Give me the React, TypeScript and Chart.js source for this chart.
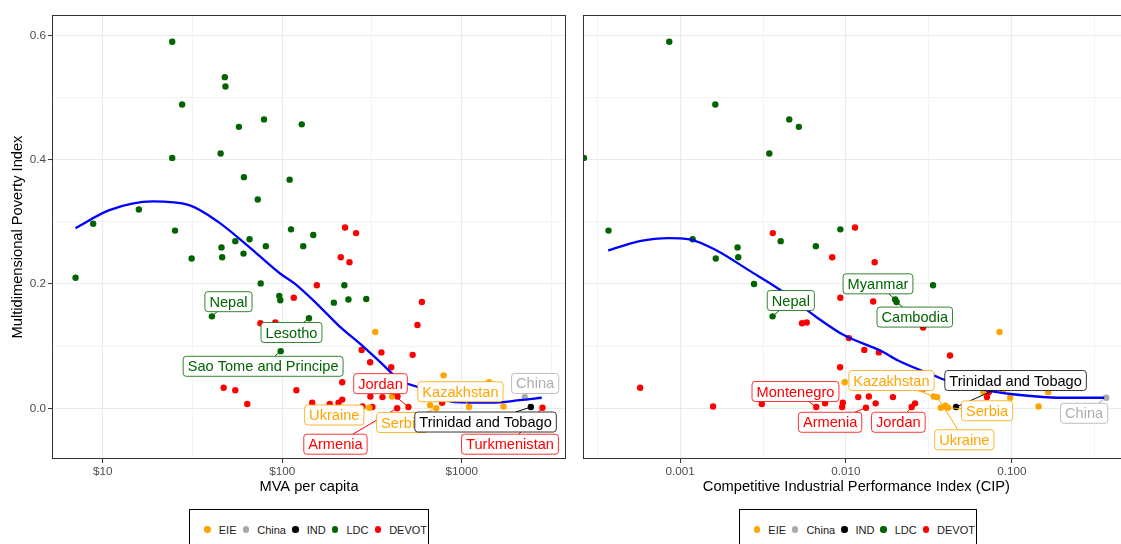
import React, { useEffect, useRef } from 'react';
import { Chart, registerables } from 'chart.js';

Chart.register(...registerables);

const FONT = '"Liberation Sans", Arial, Helvetica, sans-serif';

const GROUPS = ['EIE', 'China', 'IND', 'LDC', 'DEVOT'];
const GROUP_COLORS = ['#FFA500', '#A9A9A9', '#000000', '#006400', '#FF0000'];
const LABEL_COLORS = ['#FFA500', '#AEAEAE', '#000000', '#006400', '#FF0000'];

const Y_TICKS = [0, 0.1, 0.2, 0.3, 0.4, 0.5, 0.6];
const Y_TICK_LABELS = ['0.0', '', '0.2', '', '0.4', '', '0.6'];

const MVA_TICKS = [10, 31.623, 100, 316.23, 1000, 3162.3];
const MVA_TICK_LABELS = ['$10', '', '$100', '', '$1000', ''];

const CIP_TICKS = [0.00031623, 0.001, 0.0031623, 0.01, 0.031623, 0.1, 0.31623];
const CIP_TICK_LABELS = ['', '0.001', '', '0.010', '', '0.100', ''];

// ---------- Left panel: MVA per capita ----------
const mvaX = [
  24.4, 47.9, 48.3, 27.7, 57.4, 79.2, 128.5, 45.4, 24.4, 61.2,
  110, 73.1, 15.9, 8.85, 25.3, 112, 149, 224, 258, 54.8,
  65.8, 45.9, 81.1, 131, 7.06, 31.3, 46.3, 60.9, 75.9, 96.3,
  97.6, 116, 156, 222, 194, 234, 294, 212, 237, 40.6,
  75.6, 91.6, 141, 98.1, 330, 277, 357, 309, 405, 533,
  567, 600, 793, 1422, 47.2, 54.8, 63.9, 120, 216, 216,
  147, 184, 206, 280, 306, 318, 310, 362, 409, 439,
  505, 437, 667, 722, 778, 1099, 1710, 2244, 2427, 2818,
];
const mvaY = [
  0.590, 0.533, 0.518, 0.489, 0.453, 0.465, 0.457, 0.410, 0.403, 0.372,
  0.368, 0.336, 0.320, 0.297, 0.286, 0.288, 0.279, 0.291, 0.282, 0.269,
  0.272, 0.259, 0.261, 0.261, 0.210, 0.241, 0.243, 0.249, 0.201, 0.181,
  0.174, 0.178, 0.198, 0.198, 0.170, 0.175, 0.176, 0.243, 0.235, 0.148,
  0.137, 0.138, 0.145, 0.092, 0.123, 0.094, 0.090, 0.074, 0.066, 0.086,
  0.134, 0.171, 0.053, 0.042, 0.033, 0.029, 0.007, 0.029, 0.042, 0.014,
  0.009, 0.007, 0.009, 0.003, 0.001, 0.002, 0.019, 0.018, 0.019, 0.019,
  0.002, 0.000, 0.005, 0.000, 0.009, 0.002, 0.003, 0.018, 0.002, 0.001,
];
const mvaGroup = [
  'LDC', 'LDC', 'LDC', 'LDC', 'LDC', 'LDC', 'LDC', 'LDC', 'LDC', 'LDC',
  'LDC', 'LDC', 'LDC', 'LDC', 'LDC', 'LDC', 'LDC', 'DEVOT', 'DEVOT', 'LDC',
  'LDC', 'LDC', 'LDC', 'LDC', 'LDC', 'LDC', 'LDC', 'LDC', 'LDC', 'LDC',
  'LDC', 'DEVOT', 'DEVOT', 'LDC', 'LDC', 'LDC', 'LDC', 'DEVOT', 'DEVOT', 'LDC',
  'DEVOT', 'DEVOT', 'LDC', 'LDC', 'EIE', 'DEVOT', 'DEVOT', 'DEVOT', 'DEVOT', 'DEVOT',
  'DEVOT', 'DEVOT', 'EIE', 'EIE', 'DEVOT', 'DEVOT', 'DEVOT', 'DEVOT', 'DEVOT', 'DEVOT',
  'DEVOT', 'DEVOT', 'DEVOT', 'DEVOT', 'EIE', 'DEVOT', 'DEVOT', 'DEVOT', 'EIE', 'DEVOT',
  'DEVOT', 'DEVOT', 'EIE', 'EIE', 'DEVOT', 'EIE', 'EIE', 'China', 'IND', 'DEVOT',
];
const mvaSmoothX = [7.06, 10.9, 19.0, 30.3, 44.0, 67.0, 97.3, 117, 155, 205, 284, 359, 453, 573, 912, 1456, 2113, 2793];
const mvaSmoothY = [0.290, 0.319, 0.333, 0.327, 0.300, 0.257, 0.217, 0.201, 0.169, 0.134, 0.099, 0.072, 0.045, 0.034, 0.010, 0.009, 0.013, 0.017];

const mvaLabelText = ['Nepal', 'Lesotho', 'Sao Tome and Principe', 'Jordan', 'Kazakhstan', 'China', 'Ukraine', 'Armenia', 'Serbia', 'Turkmenistan', 'Trinidad and Tobago'];
const mvaLabelPoint = [39, 42, 43, 70, 75, 77, 64, 71, 73, 79, 78];
const mvaLabelX = [50.2, 112.7, 78.3, 353, 984, 2565, 195, 198, 466, 1858, 1358];
const mvaLabelY = [0.1716, 0.122, 0.0676, 0.0396, 0.0267, 0.040, -0.0108, -0.0578, -0.0229, -0.0578, -0.0221];

// ---------- Right panel: CIP ----------
const cipX = [
  0.00086, 0.00163, 0.00455, 0.0052, 0.00345, 0.000263, 0.00037, 0.00925, 0.01134, 0.00362,
  0.00119, 0.00404, 0.00222, 0.00658, 0.00164, 0.00224, 0.00826, 0.0149, 0.00279, 0.0335,
  0.00925, 0.0146, 0.0198, 0.0202, 0.00361, 0.00543, 0.0058, 0.0292, 0.0843, 0.01042,
  0.0129, 0.0158, 0.0424, 0.00922, 0.00982, 0.000574, 0.01186, 0.01374, 0.0192, 0.0338,
  0.0355, 0.0294, 0.0675, 0.0726, 0.0708, 0.0885, 0.0977, 0.1656, 0.145, 0.00158,
  0.00311, 0.00662, 0.00748, 0.00957, 0.00948, 0.0132, 0.0151, 0.0249, 0.0261, 0.0373,
  0.0398, 0.0412, 0.0461, 0.371,
];
const cipY = [
  0.590, 0.489, 0.465, 0.453, 0.410, 0.403, 0.286, 0.288, 0.291, 0.282,
  0.272, 0.269, 0.259, 0.261, 0.241, 0.243, 0.243, 0.235, 0.200, 0.198,
  0.178, 0.172, 0.175, 0.171, 0.148, 0.137, 0.138, 0.130, 0.123, 0.113,
  0.094, 0.090, 0.085, 0.066, 0.042, 0.033, 0.018, 0.019, 0.018, 0.019,
  0.018, 0.032, 0.026, 0.026, 0.018, 0.029, 0.017, 0.026, 0.003, 0.003,
  0.007, 0.002, 0.008, 0.009, 0.002, 0.001, 0.008, 0.002, 0.008, 0.001,
  0.004, 0.001, 0.002, 0.017,
];
const cipGroup = [
  'LDC', 'LDC', 'LDC', 'LDC', 'LDC', 'LDC', 'LDC', 'LDC', 'DEVOT', 'DEVOT',
  'LDC', 'LDC', 'LDC', 'LDC', 'LDC', 'LDC', 'DEVOT', 'DEVOT', 'LDC', 'LDC',
  'DEVOT', 'DEVOT', 'LDC', 'LDC', 'LDC', 'DEVOT', 'DEVOT', 'DEVOT', 'EIE', 'DEVOT',
  'DEVOT', 'DEVOT', 'DEVOT', 'DEVOT', 'EIE', 'DEVOT', 'DEVOT', 'DEVOT', 'DEVOT', 'EIE',
  'EIE', 'DEVOT', 'EIE', 'DEVOT', 'DEVOT', 'EIE', 'EIE', 'EIE', 'EIE', 'DEVOT',
  'DEVOT', 'DEVOT', 'DEVOT', 'DEVOT', 'DEVOT', 'DEVOT', 'DEVOT', 'DEVOT', 'DEVOT', 'EIE',
  'EIE', 'EIE', 'IND', 'China',
];
const cipSmoothX = [0.000368, 0.00057, 0.000852, 0.00114, 0.00166, 0.0026, 0.00404, 0.00662, 0.00982, 0.0161, 0.0206, 0.0338, 0.0432, 0.0708, 0.116, 0.19, 0.361];
const cipSmoothY = [0.254, 0.269, 0.274, 0.272, 0.254, 0.222, 0.190, 0.147, 0.117, 0.093, 0.077, 0.053, 0.042, 0.029, 0.021, 0.017, 0.017];

const cipLabelText = ['Nepal', 'Myanmar', 'Cambodia', 'Montenegro', 'Kazakhstan', 'Armenia', 'Jordan', 'Serbia', 'Ukraine', 'China', 'Trinidad and Tobago'];
const cipLabelPoint = [24, 22, 23, 51, 39, 55, 57, 61, 40, 63, 62];
const cipLabelX = [0.00465, 0.0156, 0.026, 0.00496, 0.0188, 0.00802, 0.0207, 0.0709, 0.0517, 0.273, 0.1054];
const cipLabelY = [0.1735, 0.2003, 0.1468, 0.027, 0.0447, -0.0225, -0.0225, -0.004, -0.0507, -0.008, 0.0447];

type PanelProps = {
  xs: number[]; ys: number[]; groups: string[];
  smoothX: number[]; smoothY: number[];
  labelText: string[]; labelPoint: number[]; labelX: number[]; labelY: number[];
  xMin: number; xMax: number; xTicks: number[]; xTickLabels: string[];
  xTitle: string; yTitle?: string;
  left: number; width: number; padLeft: number; padRight: number; yAxisWidth: number;
};

const CANVAS_H = 500;
const PLOT_TOP = 15;
const PLOT_BOTTOM = 459;
const Y_MIN = -0.0816;
const Y_MAX = 0.633;

const makeDecoPlugin = (p: PanelProps) => ({
  id: 'panelDeco',
  afterDatasetsDraw(chart: any) {
    const { ctx, chartArea: ca, scales } = chart;
    const sx = scales.x;
    const sy = scales.y;
    ctx.save();
    // panel border
    ctx.strokeStyle = '#333333';
    ctx.lineWidth = 1;
    ctx.strokeRect(ca.left + 0.5, ca.top + 0.5, ca.right - ca.left - 1, ca.bottom - ca.top - 1);

    // repel-style labels
    ctx.font = `14.6px ${FONT}`;
    const boxes = p.labelText.map((text, i) => {
      const k = p.labelPoint[i];
      const color = LABEL_COLORS[GROUPS.indexOf(p.groups[k])];
      const w = ctx.measureText(text).width + 9;
      const h = 20;
      return {
        text, color, w, h,
        cx: sx.getPixelForValue(p.labelX[i]), cy: sy.getPixelForValue(p.labelY[i]),
        px: sx.getPixelForValue(p.xs[k]), py: sy.getPixelForValue(p.ys[k]),
      };
    });
    boxes.forEach((b) => {
      const dx = b.px - b.cx;
      const dy = b.py - b.cy;
      const tx = dx === 0 ? Infinity : (b.w / 2) / Math.abs(dx);
      const ty = dy === 0 ? Infinity : (b.h / 2) / Math.abs(dy);
      const t = Math.min(tx, ty);
      if (t >= 1) return;
      const x0 = b.cx + dx * t;
      const y0 = b.cy + dy * t;
      if (Math.hypot(b.px - x0, b.py - y0) < 4) return;
      ctx.strokeStyle = b.color;
      ctx.lineWidth = 1;
      ctx.beginPath();
      ctx.moveTo(x0, y0);
      ctx.lineTo(b.px, b.py);
      ctx.stroke();
    });
    boxes.forEach((b) => {
      const x0 = b.cx - b.w / 2;
      const y0 = b.cy - b.h / 2;
      ctx.beginPath();
      ctx.roundRect(x0, y0, b.w, b.h, 3);
      ctx.fillStyle = '#FFFFFF';
      ctx.fill();
      ctx.strokeStyle = b.color;
      ctx.lineWidth = 0.8;
      ctx.stroke();
      ctx.fillStyle = b.color;
      ctx.textAlign = 'center';
      ctx.textBaseline = 'middle';
      ctx.fillText(b.text, b.cx, b.cy + 1);
    });

    // axis titles
    ctx.fillStyle = '#000000';
    ctx.font = `14.67px ${FONT}`;
    ctx.textAlign = 'center';
    ctx.textBaseline = 'middle';
    ctx.fillText(p.xTitle, (ca.left + ca.right) / 2, 487);
    if (p.yTitle) {
      ctx.translate(18, (ca.top + ca.bottom) / 2);
      ctx.rotate(-Math.PI / 2);
      ctx.fillText(p.yTitle, 0, 0);
    }
    ctx.restore();
  },
});

function Panel(p: PanelProps) {
  const ref = useRef<HTMLCanvasElement>(null);
  useEffect(() => {
    if (!ref.current) return;
    const isMajorX = (v: number) => {
      const i = p.xTicks.findIndex((t) => Math.abs(t - v) / t < 1e-4);
      return i >= 0 && p.xTickLabels[i] !== '';
    };
    const isMajorY = (v: number) => {
      const i = Y_TICKS.findIndex((t) => Math.abs(t - v) < 1e-6);
      return i >= 0 && Y_TICK_LABELS[i] !== '';
    };
    const scatterSets = GROUPS.map((g, gi) => ({
      type: 'scatter',
      label: g,
      data: p.xs.map((x, i) => ({ x, y: p.ys[i] })).filter((_, i) => p.groups[i] === g),
      pointRadius: 3.2,
      pointHoverRadius: 3.2,
      pointBackgroundColor: GROUP_COLORS[gi],
      pointBorderColor: GROUP_COLORS[gi],
      pointBorderWidth: 0,
      order: 1,
    }));
    const lineSet = {
      type: 'line',
      label: 'smooth',
      data: p.smoothX.map((x, i) => ({ x, y: p.smoothY[i] })),
      borderColor: '#0000FF',
      borderWidth: 2.3,
      pointRadius: 0,
      fill: false,
      showLine: true,
      cubicInterpolationMode: 'monotone',
      order: 0,
    };
    const chart = new Chart(ref.current, {
      type: 'scatter',
      data: { datasets: [...scatterSets, lineSet] as any },
      options: {
        animation: false,
        responsive: false,
        devicePixelRatio: 1,
        events: [],
        layout: { padding: { left: p.padLeft, right: p.padRight, top: PLOT_TOP, bottom: 0 } },
        plugins: { legend: { display: false }, tooltip: { enabled: false } },
        scales: {
          x: {
            type: 'logarithmic',
            min: p.xMin,
            max: p.xMax,
            afterBuildTicks: (s: any) => {
              s.ticks = p.xTicks.filter((v) => v >= p.xMin && v <= p.xMax).map((v) => ({ value: v }));
            },
            afterFit: (s: any) => { s.height = CANVAS_H - PLOT_BOTTOM; },
            border: { display: false },
            grid: {
              color: '#EBEBEB',
              lineWidth: (c: any) => (c.tick && isMajorX(c.tick.value) ? 1.1 : 0.55),
              tickColor: (c: any) => (c.tick && isMajorX(c.tick.value) ? '#333333' : 'rgba(0,0,0,0)'),
              tickWidth: 1,
              tickLength: 4,
            },
            ticks: {
              autoSkip: false,
              maxRotation: 0,
              minRotation: 0,
              padding: 2,
              color: '#4D4D4D',
              font: { family: FONT, size: 11.7 },
              callback: (v: any) => {
                const i = p.xTicks.findIndex((t) => Math.abs(t - Number(v)) / t < 1e-4);
                return i >= 0 ? p.xTickLabels[i] : '';
              },
            },
          },
          y: {
            type: 'linear',
            min: Y_MIN,
            max: Y_MAX,
            afterBuildTicks: (s: any) => {
              s.ticks = Y_TICKS.map((v) => ({ value: v }));
            },
            afterFit: (s: any) => { s.width = p.yAxisWidth; },
            border: { display: false },
            grid: {
              color: '#EBEBEB',
              lineWidth: (c: any) => (c.tick && isMajorY(c.tick.value) ? 1.1 : 0.55),
              tickColor: (c: any) => (c.tick && isMajorY(c.tick.value) ? '#333333' : 'rgba(0,0,0,0)'),
              tickWidth: 1,
              tickLength: 4,
              drawTicks: p.yAxisWidth > 0,
            },
            ticks: {
              display: p.yAxisWidth > 0,
              autoSkip: false,
              padding: 2,
              color: '#4D4D4D',
              font: { family: FONT, size: 11.7 },
              callback: (v: any) => {
                const i = Y_TICKS.findIndex((t) => Math.abs(t - Number(v)) < 1e-6);
                return i >= 0 ? Y_TICK_LABELS[i] : '';
              },
            },
          },
        },
      } as any,
      plugins: [makeDecoPlugin(p)],
    });
    return () => chart.destroy();
  }, []);
  return (
    <canvas
      ref={ref}
      width={p.width}
      height={CANVAS_H}
      style={{ position: 'absolute', left: p.left, top: 0, width: p.width, height: CANVAS_H }}
    />
  );
}

function Legend({ left, width }: { left: number; width: number }) {
  return (
    <div
      style={{
        position: 'absolute', left, top: 509, width, height: 41, boxSizing: 'border-box',
        border: '1px solid #000', display: 'flex', alignItems: 'center', paddingLeft: 9,
        fontFamily: FONT, fontSize: 11, color: '#1A1A1A', whiteSpace: 'nowrap',
      }}
    >
      {GROUPS.map((g, i) => (
        <React.Fragment key={g}>
          <span style={{ width: 17, display: 'inline-flex', justifyContent: 'center', alignItems: 'center' }}>
            <span style={{ width: 6.4, height: 6.4, borderRadius: '50%', background: GROUP_COLORS[i], display: 'inline-block' }} />
          </span>
          <span style={{ marginLeft: 3, marginRight: 1 }}>{g}</span>
        </React.Fragment>
      ))}
    </div>
  );
}

export default function App() {
  const leftProps: PanelProps = {
    xs: mvaX, ys: mvaY, groups: mvaGroup,
    smoothX: mvaSmoothX, smoothY: mvaSmoothY,
    labelText: mvaLabelText, labelPoint: mvaLabelPoint, labelX: mvaLabelX, labelY: mvaLabelY,
    xMin: 5.22, xMax: 3811, xTicks: MVA_TICKS, xTickLabels: MVA_TICK_LABELS,
    xTitle: 'MVA per capita', yTitle: 'Multidimensional Poverty Index',
    left: 0, width: 570, padLeft: 0, padRight: 4, yAxisWidth: 52,
  };
  const rightProps: PanelProps = {
    xs: cipX, ys: cipY, groups: cipGroup,
    smoothX: cipSmoothX, smoothY: cipSmoothY,
    labelText: cipLabelText, labelPoint: cipLabelPoint, labelX: cipLabelX, labelY: cipLabelY,
    xMin: 0.0002596, xMax: 0.5147, xTicks: CIP_TICKS, xTickLabels: CIP_TICK_LABELS,
    xTitle: 'Competitive Industrial Performance Index (CIP)',
    left: 570, width: 563, padLeft: 13, padRight: 0, yAxisWidth: 0,
  };
  return (
    <div style={{ position: 'fixed', left: 0, top: 0, width: 1121, height: 544, overflow: 'hidden', background: '#FFFFFF' }}>
      <Panel {...leftProps} />
      <Panel {...rightProps} />
      <Legend left={189} width={240} />
      <Legend left={739} width={238} />
    </div>
  );
}
